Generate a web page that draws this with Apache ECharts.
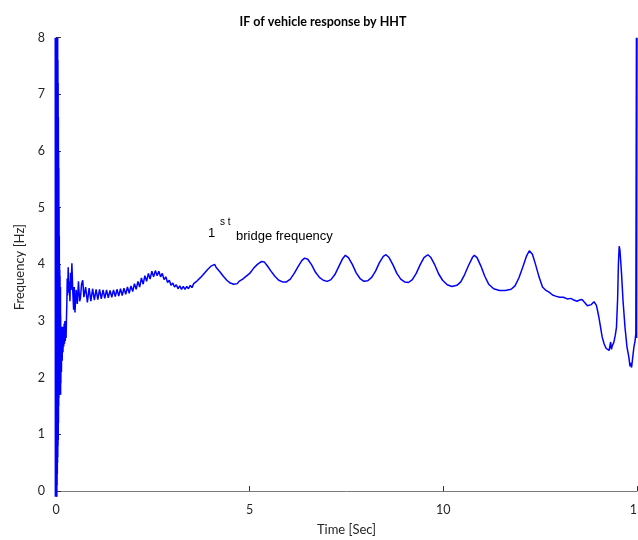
<!DOCTYPE html>
<html>
<head>
<meta charset="utf-8">
<script src="https://cdn.jsdelivr.net/npm/echarts@6/dist/echarts.min.js"></script>
<style>html,body{margin:0;padding:0;background:#fff}#c{width:638px;height:540px}</style>
</head>
<body>
<div id="c"></div>
<script>
// Time [s] and instantaneous frequency [Hz]
const burstT = [0.000,0.003,0.006,0.009,0.012,0.015,0.018,0.021,0.024,0.027,0.030,0.033,0.036,0.039,0.042,0.045,0.048,0.051,0.054,0.057,0.060,0.063,0.066,0.069,0.072,0.075,0.078,0.081,0.084,0.087,0.090,0.093,0.096];
const burstF = [8.0,-0.1,8.0,0.1,8.0,0.3,7.9,0.5,8.0,0.6,7.6,0.8,7.2,0.9,6.6,1.2,6.0,1.5,5.7,1.65,5.0,1.7,4.5,1.7,4.0,1.7,3.9,1.7,3.8,1.75,3.6,1.8,3.6];

const earlyT = [0.100,0.105,0.110,0.115,0.120,0.130,0.140,0.150,0.160,0.170,0.180,0.190,0.200,0.210,0.220,0.230,0.240,0.250,0.260,0.270,0.280,0.290,0.300,0.315,0.330,0.345,0.360,0.375,0.390,0.410,0.435,0.455,0.470,0.490,0.520,0.550,0.580,0.610,0.630,0.660,0.690,0.720];
const earlyF = [1.7,3.3,1.75,3.1,1.9,2.9,2.1,2.85,2.3,2.9,2.45,2.85,2.55,2.95,2.6,3.0,2.65,3.0,2.7,3.05,3.3,3.75,3.45,3.95,3.5,3.7,3.35,3.85,3.55,4.02,3.5,3.2,3.6,3.15,3.55,3.3,3.7,3.35,3.4,3.65,3.72,3.42];

const rippleT = [0.765,0.81,0.855,0.90,0.945,0.99,1.035,1.08,1.125,1.17,1.215,1.26,1.305,1.35,1.395,1.44,1.485,1.53,1.575,1.62,1.665,1.71,1.755,1.80,1.845,1.89,1.935,1.98,2.025,2.07,2.115,2.16,2.205,2.25,2.295,2.34,2.385,2.43,2.475,2.52,2.565,2.61,2.655,2.70,2.745,2.79,2.835,2.88,2.925,2.97,3.015,3.06,3.105,3.15,3.195,3.24,3.285,3.33,3.375,3.42,3.465,3.51,3.555,3.60,3.645,3.69,3.735,3.78,3.825,3.87,3.915,3.96,4.005,4.05,4.095,4.14,4.185,4.23,4.275,4.32,4.365,4.41,4.455,4.50,4.545,4.59,4.635,4.68,4.725,4.77,4.82,4.87];
const rippleF = [3.60,3.33,3.58,3.35,3.57,3.37,3.56,3.38,3.56,3.39,3.55,3.40,3.55,3.41,3.54,3.42,3.55,3.43,3.56,3.44,3.57,3.45,3.58,3.47,3.60,3.49,3.62,3.52,3.66,3.56,3.70,3.60,3.76,3.65,3.80,3.70,3.84,3.74,3.88,3.78,3.89,3.80,3.88,3.78,3.84,3.73,3.78,3.68,3.72,3.63,3.67,3.60,3.64,3.57,3.62,3.56,3.61,3.56,3.61,3.57,3.63,3.59,3.66,3.63,3.71,3.68,3.77,3.75,3.84,3.82,3.91,3.89,3.97,3.95,4.00,3.94,3.95,3.87,3.87,3.79,3.79,3.72,3.73,3.67,3.69,3.65,3.68,3.66,3.70,3.70,3.74,3.76];

const humpT = [5.0,5.1,5.2,5.3,5.38,5.45,5.55,5.65,5.75,5.85,5.95,6.05,6.15,6.25,6.35,6.42,6.5,6.6,6.7,6.8,6.9,7.0,7.1,7.2,7.3,7.4,7.47,7.55,7.65,7.75,7.85,7.95,8.05,8.15,8.25,8.35,8.45,8.52,8.6,8.7,8.8,8.9,9.0,9.1,9.2,9.3,9.4,9.5,9.6,9.68,9.78,9.88,9.98,10.1,10.22,10.35,10.45,10.55,10.65,10.75,10.8,10.87,10.97,11.07,11.17,11.3,11.45,11.6,11.75,11.85,11.95,12.05,12.15,12.22,12.3,12.38,12.47,12.56,12.65,12.73,12.82,12.9,13.0,13.1,13.2,13.29,13.37,13.45,13.52,13.58,13.66,13.72,13.76,13.82,13.89,13.95,13.98];
const humpF = [3.84,3.93,4.00,4.05,4.04,3.98,3.88,3.79,3.72,3.69,3.69,3.74,3.84,3.96,4.07,4.11,4.09,3.99,3.86,3.77,3.72,3.70,3.73,3.82,3.96,4.10,4.16,4.12,4.00,3.85,3.75,3.70,3.71,3.77,3.88,4.03,4.14,4.17,4.12,3.99,3.84,3.74,3.69,3.68,3.73,3.84,3.99,4.12,4.17,4.12,3.99,3.83,3.72,3.64,3.61,3.63,3.69,3.82,3.98,4.12,4.16,4.12,3.97,3.79,3.65,3.57,3.54,3.54,3.56,3.62,3.76,3.95,4.15,4.24,4.18,4.00,3.78,3.60,3.54,3.51,3.46,3.44,3.42,3.42,3.39,3.40,3.37,3.35,3.37,3.38,3.32,3.27,3.25,3.29,3.34,3.28,3.19];

const endT = [14.02,14.06,14.10,14.15,14.20,14.24,14.28,14.32,14.34,14.36,14.40,14.44,14.47,14.50,14.52,14.54,14.56,14.58,14.60,14.64,14.69,14.74,14.79,14.82,14.84,14.86,14.88,14.92,14.95,14.97,14.985,14.99,15.0];
const endF = [3.05,2.89,2.72,2.60,2.52,2.54,2.48,2.63,2.50,2.56,2.62,2.75,2.89,3.40,4.00,4.32,4.25,4.05,3.85,3.35,2.89,2.55,2.36,2.20,2.26,2.18,2.30,2.54,2.65,2.78,8.0,2.7,8.0];

const xTicks = [0,5,10,15];
const yTicks = [0,1,2,3,4,5,6,7,8];

function pairs(t,f){return t.map((v,i)=>[v,f[i]]);}
const mainData = [].concat(pairs(earlyT,earlyF), pairs(rippleT,rippleF), pairs(humpT,humpF), pairs(endT,endF));
const burstData = pairs(burstT,burstF).concat([[earlyT[0],earlyF[0]]]);

const chart = echarts.init(document.getElementById('c'), null, {renderer:'canvas'});
const txt = '#262626';
chart.setOption({
  animation:false,
  backgroundColor:'#fff',
  title:{text:'IF of vehicle response by HHT', left:318, textAlign:'center', top:10,
    textStyle:{fontFamily:'Lato', fontWeight:'bold', fontSize:12.5, color:'#000'}},
  grid:{left:56, right:1, top:37.7, bottom:43.3, outerBoundsMode:'none', containLabel:false},
  xAxis:{type:'value', min:0, max:15, interval:5,
    name:'Time [Sec]', nameLocation:'middle', nameGap:27,
    nameTextStyle:{fontFamily:'Lato', fontSize:13, color:txt},
    axisLine:{show:true, lineStyle:{color:'#7a7a7a', width:1}},
    axisTick:{show:true, inside:true, length:5, customValues:xTicks, lineStyle:{color:'#333'}},
    axisLabel:{fontFamily:'Lato', fontSize:12.5, color:txt, margin:7, customValues:xTicks, showMaxLabel:true, hideOverlap:false},
    splitLine:{show:false}},
  yAxis:{type:'value', min:-0.1, max:8,
    name:'Frequency [Hz]', nameLocation:'middle', nameGap:30, nameRotate:90,
    nameTextStyle:{fontFamily:'Lato', fontSize:13, color:txt},
    axisLine:{show:true, lineStyle:{color:'#7a7a7a', width:1}},
    axisTick:{show:true, inside:true, length:5, customValues:yTicks, lineStyle:{color:'#333'}},
    axisLabel:{fontFamily:'Lato', fontSize:12.5, color:txt, margin:11, customValues:yTicks},
    splitLine:{show:false}},
  graphic:[
    {type:'text', left:208, top:227, style:{text:'1', font:'13px "Liberation Sans"', fill:'#000'}},
    {type:'text', left:220, top:217, style:{text:'s t', font:'10px "Liberation Sans"', fill:'#000'}},
    {type:'text', left:236, top:230, style:{text:'bridge frequency', font:'13px "Liberation Sans"', fill:'#000'}}
  ],
  series:[
    {type:'line', data:burstData, showSymbol:false, lineStyle:{color:'#0000ff', width:3}, clip:true, z:3},
    {type:'line', data:mainData, showSymbol:false, lineStyle:{color:'#0000ff', width:1.5}, clip:true, z:3}
  ]
});
</script>
</body>
</html>
